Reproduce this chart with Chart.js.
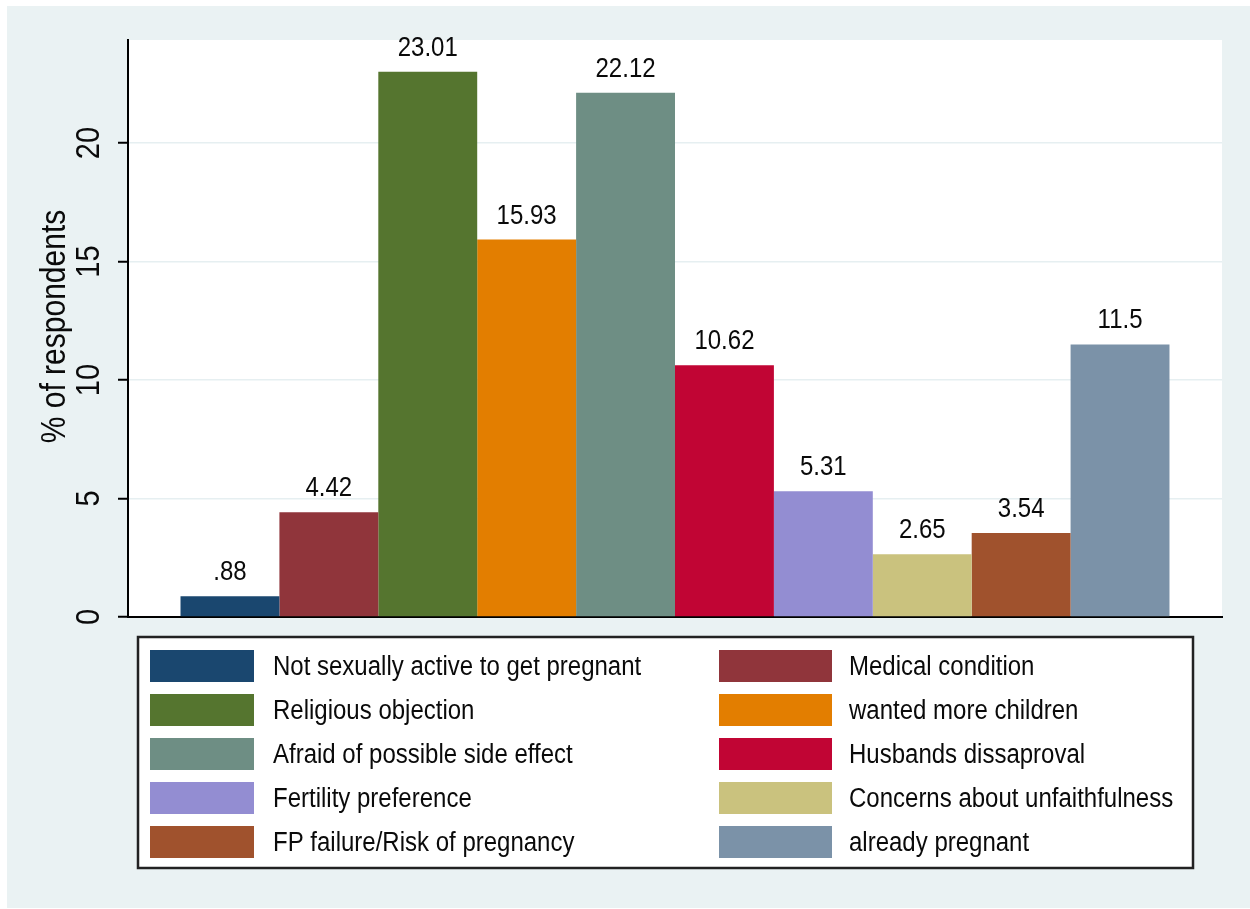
<!DOCTYPE html>
<html>
<head>
<meta charset="utf-8">
<script src="https://cdn.jsdelivr.net/npm/chart.js@4"></script>
<style>
  html, body { margin: 0; padding: 0; background: #fff; }
  canvas { display: block; }
</style>
</head>
<body>
<canvas id="myChart" width="1250" height="909"></canvas>
<script>
// reasons for not using family planning, % of respondents
var reasons = [
  'Not sexually active to get pregnant',
  'Medical condition',
  'Religious objection',
  'wanted more children',
  'Afraid of possible side effect',
  'Husbands dissaproval',
  'Fertility preference',
  'Concerns about unfaithfulness',
  'FP failure/Risk of pregnancy',
  'already pregnant'
];
var percents = [0.88, 4.42, 23.01, 15.93, 22.12, 10.62, 5.31, 2.65, 3.54, 11.5];
var barColors = ['#1A476F', '#90353B', '#55752F', '#E37E00', '#6E8E84',
                 '#C10534', '#938DD2', '#CAC27E', '#A0522D', '#7B92A8'];
var yTicks = [0, 5, 10, 15, 20];
var yTitle = '% of respondents';

var FONT = '"Liberation Sans", Arial, sans-serif';
var TEXT = '#0a0a0a';
var STRETCH = 1.15; // glyphs in the picture are a bit taller than plain Arial

// stata style number: .88 instead of 0.88
function fmt(v) {
  return String(v).replace(/^0\./, '.');
}

function stretchedText(ctx, txt, x, y, rot) {
  ctx.save();
  ctx.translate(x, y);
  if (rot) ctx.rotate(rot);
  ctx.scale(1, STRETCH);
  ctx.fillText(txt, 0, 0);
  ctx.restore();
}

var stataLook = {
  id: 'stataLook',
  beforeDraw: function (chart) {
    var ctx = chart.ctx, a = chart.chartArea;
    ctx.save();
    ctx.fillStyle = '#fff';
    ctx.fillRect(0, 0, chart.width, chart.height);
    ctx.fillStyle = '#EAF2F3';
    ctx.fillRect(7, 6, chart.width - 7, 902);
    ctx.fillStyle = '#fff';
    ctx.fillRect(a.left, a.top, a.right - a.left, a.bottom - a.top);
    ctx.restore();
  },
  afterDatasetsDraw: function (chart) {
    var ctx = chart.ctx;
    ctx.save();
    ctx.fillStyle = TEXT;
    ctx.font = '24px ' + FONT;
    ctx.textAlign = 'center';
    ctx.textBaseline = 'alphabetic';
    chart.data.datasets.forEach(function (ds, i) {
      var bar = chart.getDatasetMeta(i).data[0];
      stretchedText(ctx, fmt(ds.data[0]), bar.x, bar.y - 16);
    });
    ctx.restore();
  },
  afterDraw: function (chart) {
    var ctx = chart.ctx, y = chart.scales.y, a = chart.chartArea;
    ctx.save();
    ctx.fillStyle = TEXT;
    ctx.textBaseline = 'alphabetic';
    ctx.textAlign = 'center';

    // rotated tick labels
    ctx.font = '29px ' + FONT;
    yTicks.forEach(function (t) {
      stretchedText(ctx, String(t), 99, y.getPixelForValue(t), -Math.PI / 2);
    });

    // axis title
    ctx.font = '30px ' + FONT;
    stretchedText(ctx, yTitle, 65, (a.top + a.bottom) / 2 - 2, -Math.PI / 2);

    // legend box, two columns
    var bx = 138, by = 637, bw = 1055, bh = 231;
    ctx.fillStyle = '#fff';
    ctx.fillRect(bx, by, bw, bh);
    ctx.strokeStyle = '#222';
    ctx.lineWidth = 2.5;
    ctx.strokeRect(bx, by, bw, bh);

    var swX = [150, 719], swW = [104, 113], txtX = [273, 849];
    ctx.font = '24px ' + FONT;
    ctx.textAlign = 'left';
    chart.data.datasets.forEach(function (ds, i) {
      var col = i % 2, row = Math.floor(i / 2);
      var top = 650 + row * 44;
      ctx.fillStyle = ds.backgroundColor;
      ctx.fillRect(swX[col], top, swW[col], 32);
      ctx.fillStyle = TEXT;
      stretchedText(ctx, ds.label, txtX[col], top + 25);
    });
    ctx.restore();
  }
};

var ctx = document.getElementById('myChart').getContext('2d');
var myChart = new Chart(ctx, {
  type: 'bar',
  data: {
    labels: [''],
    datasets: reasons.map(function (r, i) {
      return {
        label: r,
        data: [percents[i]],
        backgroundColor: barColors[i],
        borderWidth: 0
      };
    })
  },
  options: {
    responsive: false,
    animation: false,
    devicePixelRatio: 1,
    categoryPercentage: 0.904,
    barPercentage: 1,
    layout: {
      padding: { left: 7, top: 40, right: 28, bottom: 292 }
    },
    plugins: {
      legend: { display: false },
      tooltip: { enabled: false }
    },
    scales: {
      x: {
        grid: { display: false },
        ticks: { display: false },
        border: { color: '#000', width: 2 },
        afterFit: function (s) { s.height = 0; }
      },
      y: {
        min: 0,
        max: 24.35,
        ticks: { display: false, stepSize: 5, includeBounds: false },
        grid: {
          color: '#E6EFF1',
          lineWidth: 1.5,
          tickLength: 10,
          tickColor: '#000',
          tickWidth: 2
        },
        border: { color: '#000', width: 2 },
        afterFit: function (s) { s.width = 121; }
      }
    }
  },
  plugins: [stataLook]
});
</script>
</body>
</html>
